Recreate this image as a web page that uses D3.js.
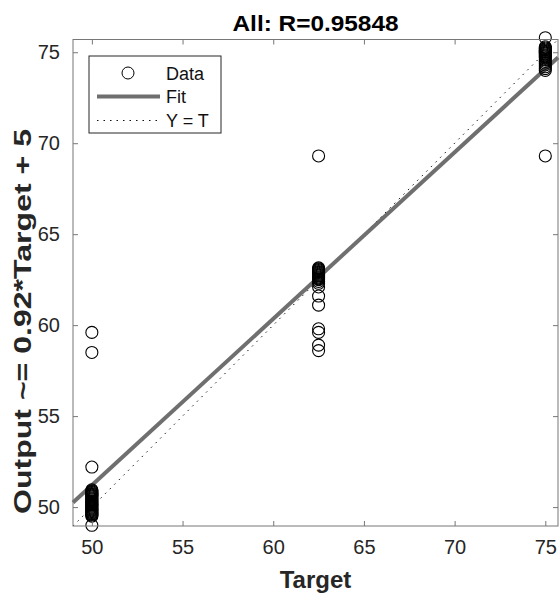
<!DOCTYPE html>
<html>
<head>
<meta charset="utf-8">
<script src="https://cdn.jsdelivr.net/npm/d3@7"></script>
<style>
  body { margin: 0; background: #fff; }
  text { font-family: "Liberation Sans", Arial, Helvetica, sans-serif; }
</style>
</head>
<body>
<svg id="chart" width="560" height="595"></svg>
<script>
// targets for each cluster and the network outputs
const targets = [50, 62.5, 75];
const outputsAt50 = [59.6, 58.5, 52.2, 50.95, 50.9, 50.85, 50.8, 50.75, 50.7, 50.65, 50.6,
  50.55, 50.5, 50.45, 50.4, 50.35, 50.3, 50.25, 50.2, 50.15, 50.1, 50.05, 50.0, 49.95,
  49.9, 49.85, 49.8, 49.75, 49.7, 49.65, 49.6, 49.55, 49.5, 49.0];
const outputsAt625 = [69.3, 63.15, 63.1, 63.05, 63.0, 62.95, 62.9, 62.85, 62.8, 62.75, 62.7,
  62.65, 62.6, 62.55, 62.5, 62.4, 62.3, 62.1, 61.6, 61.1, 59.8, 59.6, 58.9, 58.6];
const outputsAt75 = [75.8, 75.3, 75.25, 75.2, 75.15, 75.1, 75.05, 75.0, 74.95, 74.9, 74.85,
  74.8, 74.75, 74.7, 74.6, 74.5, 74.4, 74.3, 74.2, 74.1, 74.0, 69.3];
const axisLimits = [48.96, 75.7];
const tickValues = [50, 55, 60, 65, 70, 75];
const fitSlope = 0.915;
const fitIntercept = 5.45;
const legendLabels = ["Data", "Fit", "Y = T"];

const points = [];
[outputsAt50, outputsAt625, outputsAt75].forEach((outs, i) => {
  outs.forEach(o => points.push({ t: targets[i], o: o }));
});

const svg = d3.select("#chart");
const mLeft = 73, mRight = 558, mTop = 39.5, mBottom = 526;

const x = d3.scaleLinear().domain(axisLimits).range([mLeft, mRight]);
const y = d3.scaleLinear().domain(axisLimits).range([mBottom, mTop]);

const axisColor = "#777";

// y = t reference line
svg.append("line")
  .attr("x1", x(axisLimits[0])).attr("y1", y(axisLimits[0]))
  .attr("x2", x(axisLimits[1])).attr("y2", y(axisLimits[1]))
  .attr("stroke", "#111").attr("stroke-width", 1)
  .attr("stroke-dasharray", "1.5,5");

// fit line
svg.append("line")
  .attr("x1", x(axisLimits[0])).attr("y1", y(fitSlope * axisLimits[0] + fitIntercept))
  .attr("x2", x(axisLimits[1])).attr("y2", y(fitSlope * axisLimits[1] + fitIntercept))
  .attr("stroke", "#6f6f6f").attr("stroke-width", 4);

// data circles
svg.append("g").selectAll("circle")
  .data(points)
  .enter().append("circle")
  .attr("cx", d => x(d.t))
  .attr("cy", d => y(d.o))
  .attr("r", 6)
  .attr("fill", "none")
  .attr("stroke", "#000")
  .attr("stroke-width", 1.1);

// axes on all four sides, ticks inward
const tickSize = 5;
const styleAxis = g => {
  g.select(".domain").remove();
  g.selectAll(".tick line").attr("stroke", axisColor);
  g.selectAll(".tick text").attr("fill", "#262626").style("font-size", "20px")
    .style("font-family", "'Liberation Sans', Arial, sans-serif");
};
svg.append("g")
  .attr("transform", `translate(0,${mBottom})`)
  .call(d3.axisBottom(x).tickValues(tickValues).tickSizeInner(-tickSize).tickPadding(14))
  .call(styleAxis);
svg.append("g")
  .attr("transform", `translate(0,${mTop})`)
  .call(d3.axisTop(x).tickValues(tickValues).tickSizeInner(-tickSize).tickFormat(""))
  .call(styleAxis);
svg.append("g")
  .attr("transform", `translate(${mLeft},0)`)
  .call(d3.axisLeft(y).tickValues(tickValues).tickSizeInner(-tickSize).tickPadding(13))
  .call(styleAxis);
svg.append("g")
  .attr("transform", `translate(${mRight},0)`)
  .call(d3.axisRight(y).tickValues(tickValues).tickSizeInner(-tickSize).tickFormat(""))
  .call(styleAxis);

svg.append("rect")
  .attr("x", mLeft).attr("y", mTop)
  .attr("width", mRight - mLeft).attr("height", mBottom - mTop)
  .attr("fill", "none").attr("stroke", axisColor).attr("stroke-width", 1);

// legend
const lg = svg.append("g");
lg.append("rect")
  .attr("x", 89).attr("y", 56).attr("width", 132).attr("height", 77)
  .attr("fill", "#fff").attr("stroke", "#262626").attr("stroke-width", 1);
const rowY = [73, 96.5, 120.5];
lg.append("circle").attr("cx", 128).attr("cy", rowY[0]).attr("r", 6)
  .attr("fill", "none").attr("stroke", "#000").attr("stroke-width", 1);
lg.append("line").attr("x1", 97).attr("x2", 160).attr("y1", rowY[1]).attr("y2", rowY[1])
  .attr("stroke", "#6f6f6f").attr("stroke-width", 4);
lg.append("line").attr("x1", 97).attr("x2", 160).attr("y1", rowY[2]).attr("y2", rowY[2])
  .attr("stroke", "#111").attr("stroke-width", 1).attr("stroke-dasharray", "1.5,5");
lg.selectAll("text.lab")
  .data(legendLabels)
  .enter().append("text")
  .attr("class", "lab")
  .attr("x", 166)
  .attr("y", (d, i) => rowY[i] + 6.5)
  .attr("fill", "#111")
  .style("font-size", "18px")
  .text(d => d);

// title and axis labels
svg.append("text")
  .attr("x", (mLeft + mRight) / 2).attr("y", 31)
  .attr("text-anchor", "middle")
  .attr("textLength", 166).attr("lengthAdjust", "spacingAndGlyphs")
  .style("font-size", "22px").style("font-weight", "bold")
  .text("All: R=0.95848");
svg.append("text")
  .attr("x", (mLeft + mRight) / 2).attr("y", 588)
  .attr("text-anchor", "middle")
  .style("font-size", "24px").style("font-weight", "bold").attr("fill", "#262626")
  .text("Target");
svg.append("text")
  .attr("transform", "translate(31,514) rotate(-90)")
  .attr("text-anchor", "start")
  .attr("textLength", 385).attr("lengthAdjust", "spacingAndGlyphs")
  .style("font-size", "24px").style("font-weight", "bold").attr("fill", "#262626")
  .text("Output ~= 0.92*Target + 5");
</script>
</body>
</html>
